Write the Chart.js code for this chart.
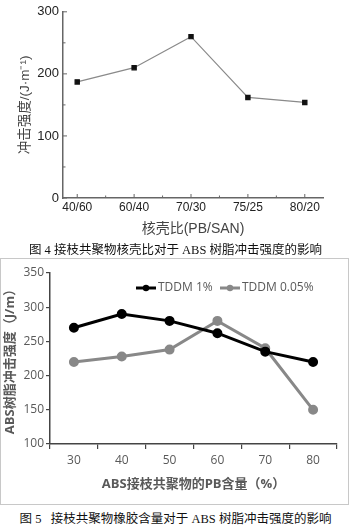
<!DOCTYPE html>
<html>
<head>
<meta charset="utf-8">
<script src="https://cdn.jsdelivr.net/npm/chart.js@4.4.1/dist/chart.umd.min.js"></script>
<style>
    body { margin: 0; background: #fff; width: 351px; height: 525px; position: relative; overflow: hidden; }
    canvas { position: absolute; left: 0; }
    #chart4 { top: 0; }
    #chart5 { top: 258px; }
    .frame { position: absolute; left: 0; top: 258px; width: 347px; height: 245px; border: 1px solid #c8c8c8; }
    .caption { position: absolute; left: 0; width: 351px; text-align: center; font-family: "Liberation Serif", "Noto Sans CJK SC", serif; color: #111; font-size: 12.5px; white-space: nowrap; }
</style>
</head>
<body>
<div class="frame"></div>
<canvas id="chart4" width="351" height="240"></canvas>
<canvas id="chart5" width="351" height="246"></canvas>
<div class="caption" style="top:239px;">图 4 接枝共聚物核壳比对于 ABS 树脂冲击强度的影响</div>
<div class="caption" style="top:508px;">图 5&nbsp;&nbsp;&nbsp;接枝共聚物橡胶含量对于 ABS 树脂冲击强度的影响</div>

<script>
// figure 4 data
const coreShell = ['40/60', '60/40', '70/30', '75/25', '80/20'];
const impact4 = [187, 210, 260, 162, 154];
const yTicks4 = [0, 100, 200, 300];

// figure 5 data
const pbContent = ['30', '40', '50', '60', '70', '80'];
const tddm1 = [270, 290, 280, 262, 235, 220];
const tddm005 = [220, 228, 238, 280, 240, 150];
const seriesNames = ['TDDM 1%', 'TDDM 0.05%'];

const sans4 = '"Liberation Sans", Arial, "Noto Sans CJK SC", sans-serif';
const sans5 = '"Open Sans", "Noto Sans CJK SC", sans-serif';

// little inward ticks like the origin plot
const innerTicks = {
    id: 'innerTicks',
    afterDraw(chart) {
        const ctx = chart.ctx;
        const x = chart.scales.x, y = chart.scales.y;
        ctx.save();
        ctx.strokeStyle = '#666';
        ctx.lineWidth = 1;
        for (let v = 0; v <= 300; v += 50) {
            const py = y.getPixelForValue(v);
            const len = v % 100 === 0 ? 4 : 2.5;
            ctx.beginPath();
            ctx.moveTo(x.left, py);
            ctx.lineTo(x.left + len, py);
            ctx.stroke();
        }
        for (let i = 0; i < coreShell.length; i++) {
            [i, i + 0.5].forEach((v, k) => {
                if (v > x.max) return;
                const px = x.getPixelForValue(v);
                const len = k === 0 ? 4 : 2.5;
                ctx.beginPath();
                ctx.moveTo(px, y.bottom);
                ctx.lineTo(px, y.bottom - len);
                ctx.stroke();
            });
        }
        ctx.restore();
    }
};

new Chart(document.getElementById('chart4'), {
    type: 'line',
    data: {
        datasets: [{
            data: impact4.map((v, i) => ({ x: i, y: v })),
            borderColor: '#8a8a8a',
            borderWidth: 1.2,
            pointStyle: 'rect',
            pointRadius: 3,
            backgroundColor: '#111',
            pointBorderColor: '#111',
            tension: 0
        }]
    },
    options: {
        responsive: false,
        animation: false,
        devicePixelRatio: 1,
        layout: { padding: { top: 10, right: 28, left: 0, bottom: 0 } },
        plugins: { legend: { display: false }, tooltip: { enabled: false } },
        scales: {
            x: {
                type: 'linear',
                min: -0.25,
                max: 4.32,
                afterFit: s => { s.height = 42; },
                afterBuildTicks: s => { s.ticks = coreShell.map((c, i) => ({ value: i })); },
                ticks: {
                    callback: v => coreShell[v],
                    font: { family: sans4, size: 12 },
                    color: '#222',
                    padding: 2,
                    maxRotation: 0
                },
                grid: { display: false, drawTicks: false },
                border: { display: true, color: '#666', width: 1.5 },
                title: {
                    display: true,
                    text: '核壳比(PB/SAN)',
                    font: { family: sans4, size: 14 },
                    color: '#444',
                    padding: { top: 0, bottom: 2 }
                }
            },
            y: {
                min: 0,
                max: 300,
                afterFit: s => { s.width = 63; },
                afterBuildTicks: s => { s.ticks = yTicks4.map(v => ({ value: v })); },
                ticks: {
                    font: { family: sans4, size: 13 },
                    color: '#222',
                    padding: 4
                },
                grid: { display: false, drawTicks: false },
                border: { display: true, color: '#666', width: 1.5 },
                title: {
                    display: true,
                    text: '冲击强度/(J·m⁻¹)',
                    font: { family: sans4, size: 13.5 },
                    color: '#444',
                    padding: { top: 17, bottom: 0 }
                }
            }
        }
    },
    plugins: [innerTicks]
});

// line-with-marker legend drawn inside the plot
const lineLegend = {
    id: 'lineLegend',
    afterDraw(chart) {
        const ctx = chart.ctx;
        const spots = [136, 220];
        const ly = 30;
        ctx.save();
        ctx.font = '12px ' + sans5;
        ctx.textBaseline = 'middle';
        chart.data.datasets.forEach((ds, i) => {
            const x0 = spots[i];
            ctx.strokeStyle = ds.borderColor;
            ctx.lineWidth = 3;
            ctx.beginPath();
            ctx.moveTo(x0, ly);
            ctx.lineTo(x0 + 20, ly);
            ctx.stroke();
            ctx.fillStyle = ds.borderColor;
            ctx.beginPath();
            ctx.arc(x0 + 10, ly, 3.2, 0, Math.PI * 2);
            ctx.fill();
            ctx.fillStyle = '#595959';
            ctx.fillText(ds.label, x0 + 22, ly);
        });
        ctx.restore();
    }
};

new Chart(document.getElementById('chart5'), {
    type: 'line',
    data: {
        labels: pbContent,
        datasets: [{
            label: seriesNames[0],
            data: tddm1,
            borderColor: '#000',
            backgroundColor: '#000',
            borderWidth: 3,
            pointRadius: 3.5,
            tension: 0
        }, {
            label: seriesNames[1],
            data: tddm005,
            borderColor: '#888',
            backgroundColor: '#888',
            borderWidth: 3,
            pointRadius: 3.5,
            tension: 0
        }]
    },
    options: {
        responsive: false,
        animation: false,
        devicePixelRatio: 1,
        layout: { padding: { top: 15, right: 14, left: 0, bottom: 0 } },
        plugins: { legend: { display: false }, tooltip: { enabled: false } },
        scales: {
            x: {
                offset: true,
                afterFit: s => { s.height = 60; },
                ticks: {
                    font: { family: sans5, size: 12 },
                    color: '#595959',
                    padding: 4
                },
                grid: { offset: true, drawOnChartArea: false, drawTicks: true, tickLength: 5, color: '#444', lineWidth: 1.2 },
                border: { display: true, color: '#444', width: 1.5 },
                title: {
                    display: true,
                    text: 'ABS接枝共聚物的PB含量（%）',
                    font: { family: sans5, size: 13, weight: 'bold' },
                    color: '#595959',
                    padding: { top: 0, bottom: 12 }
                }
            },
            y: {
                min: 100,
                max: 350,
                afterFit: s => { s.width = 50; },
                ticks: {
                    stepSize: 50,
                    font: { family: sans5, size: 12 },
                    color: '#595959',
                    padding: 2
                },
                grid: { drawOnChartArea: false, drawTicks: true, tickLength: 4, color: '#444', lineWidth: 1.2 },
                border: { display: true, color: '#444', width: 1.5 },
                title: {
                    display: true,
                    text: 'ABS树脂冲击强度（J/m）',
                    font: { family: sans5, size: 13, weight: 'bold' },
                    color: '#595959',
                    padding: { top: 2, bottom: 0 }
                }
            }
        }
    },
    plugins: [lineLegend]
});
</script>
</body>
</html>
